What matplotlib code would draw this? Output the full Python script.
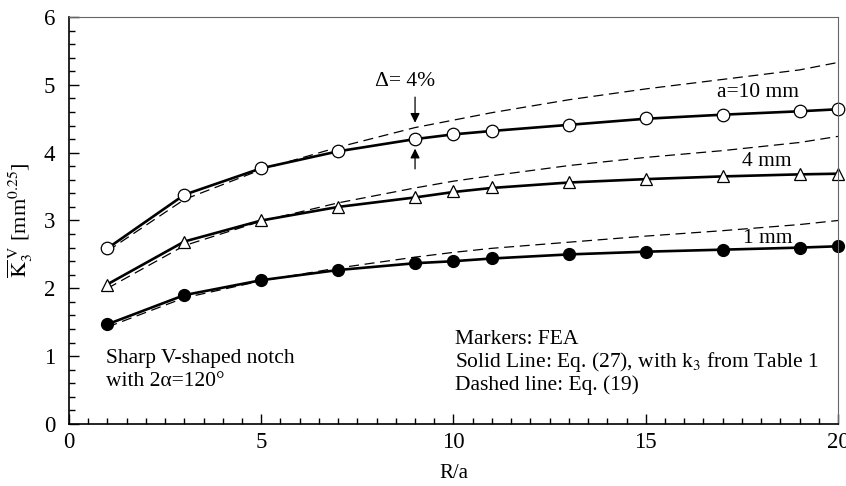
import matplotlib
matplotlib.use("Agg")
import matplotlib.pyplot as plt
from matplotlib.ticker import MultipleLocator

plt.rcParams['font.family'] = ['Liberation Serif', 'DejaVu Serif']
plt.rcParams['mathtext.fontset'] = 'stix'

# R/a positions of FEA results
ra = [1, 3, 5, 7, 9, 10, 11, 13, 15, 17, 19, 20]

# markers: FEA
fea_10 = [2.59, 3.38, 3.78, 4.02, 4.20, 4.27, 4.32, 4.41, 4.51, 4.56, 4.61, 4.65]
fea_4 = [2.05, 2.69, 3.00, 3.20, 3.34, 3.43, 3.50, 3.57, 3.61, 3.65, 3.68, 3.69]
fea_1 = [1.47, 1.90, 2.12, 2.27, 2.37, 2.40, 2.44, 2.50, 2.54, 2.57, 2.60, 2.62]

# solid line: Eq. (27)
eq27_10 = [2.59, 3.38, 3.77, 4.02, 4.20, 4.27, 4.32, 4.41, 4.50, 4.56, 4.61, 4.64]
eq27_4 = [2.06, 2.69, 3.00, 3.20, 3.34, 3.42, 3.48, 3.56, 3.61, 3.65, 3.68, 3.69]
eq27_1 = [1.47, 1.90, 2.12, 2.27, 2.37, 2.40, 2.44, 2.50, 2.54, 2.57, 2.60, 2.62]

# dashed line: Eq. (19)
eq19_10 = [2.55, 3.31, 3.75, 4.08, 4.37, 4.48, 4.59, 4.78, 4.94, 5.08, 5.22, 5.33]
eq19_4 = [2.00, 2.63, 2.99, 3.26, 3.48, 3.58, 3.66, 3.81, 3.93, 4.03, 4.15, 4.24]
eq19_1 = [1.43, 1.86, 2.11, 2.30, 2.46, 2.53, 2.59, 2.68, 2.77, 2.85, 2.94, 3.00]

fig = plt.figure(figsize=(8.46, 4.86), dpi=100)
ax = fig.add_axes([0.0816, 0.1276, 0.9089, 0.8374])

for d in [eq19_10, eq19_4, eq19_1]:
    ax.plot(ra, d, color='black', lw=0.9, dashes=(8, 4.5))
for s in [eq27_10, eq27_4, eq27_1]:
    ax.plot(ra, s, color='black', lw=1.9)

ax.plot(ra, fea_10, 'o', ms=9, mfc='white', mec='black', mew=0.9, clip_on=False)
ax.plot(ra, fea_4, '^', ms=8, mfc='white', mec='black', mew=0.9, clip_on=False)
ax.plot(ra, fea_1, 'o', ms=8.5, mfc='black', mec='black', clip_on=False)

ax.set_xlim(0, 20)
ax.set_ylim(0, 6)
ax.xaxis.set_major_locator(MultipleLocator(5))
ax.xaxis.set_minor_locator(MultipleLocator(0.5))
ax.yaxis.set_major_locator(MultipleLocator(1))
ax.yaxis.set_minor_locator(MultipleLocator(0.2))
ax.tick_params(which='both', direction='in', top=False, right=False, labelsize=16.5, width=1)
ax.tick_params(which='major', length=7)
ax.tick_params(which='minor', length=4)
ax.tick_params(axis='x', pad=6)
ax.tick_params(axis='y', pad=10)
for sp in ['left', 'bottom']:
    ax.spines[sp].set_linewidth(1.2)
for sp in ['top', 'right']:
    ax.spines[sp].set_color('#666666')

ax.set_xlabel('R/a', fontsize=15, labelpad=8)
ax.set_ylabel(r'$\overline{\mathrm{K}}_3^{\;\mathrm{V}}$ [mm$^{0.25}$]', fontsize=16, labelpad=6)

ax.text(17.93, 4.88, 'a=10 mm', fontsize=15.5, ha='center', va='center')
ax.text(18.15, 3.87, '4 mm', fontsize=15.5, ha='center', va='center')
ax.text(18.17, 2.74, '1 mm', fontsize=15.5, ha='center', va='center')

ax.text(8.75, 5.05, 'Δ= 4%', fontsize=15.5, ha='center', va='center')
ax.annotate('', xy=(9, 4.40), xytext=(9, 4.86),
            arrowprops=dict(arrowstyle='-|>', color='black', lw=0.9, mutation_scale=14))
ax.annotate('', xy=(9, 4.10), xytext=(9, 3.72),
            arrowprops=dict(arrowstyle='-|>', color='black', lw=0.9, mutation_scale=14))

ax.text(0.95, 0.97, 'Sharp V-shaped notch', fontsize=15.5, va='center')
ax.text(0.95, 0.63, 'with 2α=120°', fontsize=15.5, va='center')

ax.text(10.05, 1.25, 'Markers: FEA', fontsize=15.5, va='center')
ax.text(10.05, 0.91, r'Solid Line: Eq. (27), with k$_3$ from Table 1', fontsize=15.5, va='center')
ax.text(10.05, 0.57, 'Dashed line: Eq. (19)', fontsize=15.5, va='center')

fig.savefig('out.png', dpi=100)
